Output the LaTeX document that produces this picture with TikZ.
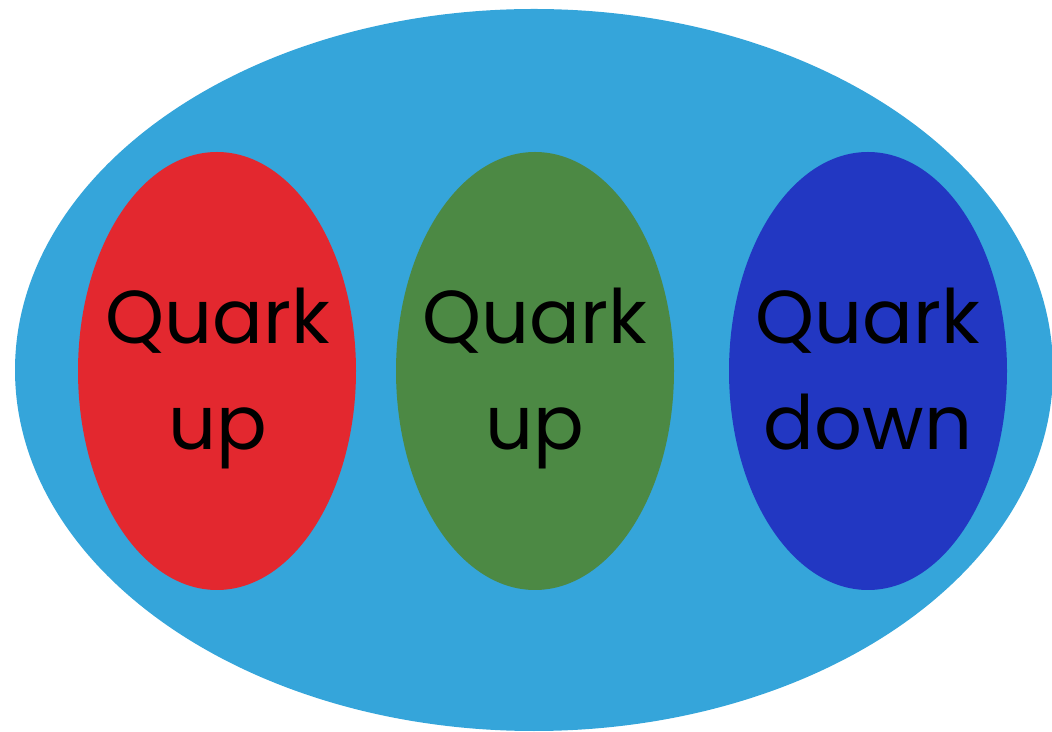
\documentclass[tikz,border=0pt]{standalone}
\usepackage{fontspec}
\setmainfont{Poppins}
\definecolor{bgblue}{HTML}{35A5DA}
\definecolor{qred}{HTML}{E3282F}
\definecolor{qgreen}{HTML}{4C8944}
\definecolor{qblue}{HTML}{2237C2}
\begin{document}
\begin{tikzpicture}[x=1pt,y=1pt,
  quark/.style={fill=#1,draw=none},
  lbl/.style={align=center,font=\fontsize{75}{107}\selectfont,text=black,inner sep=0pt}]
\useasboundingbox (0,0) rectangle (1052,731);
\begin{scope}
\clip (0,0) rectangle (1052,731);
\fill[bgblue] (534,361) ellipse [x radius=519, y radius=361];
\end{scope}
\fill[quark=qred] (217,360) ellipse [x radius=139, y radius=219];
\fill[quark=qgreen] (535,360) ellipse [x radius=139, y radius=219];
\fill[quark=qblue] (868,360) ellipse [x radius=139, y radius=219];
\node[lbl,anchor=base] (q1) at (218,387) {Quark};
\node[lbl,anchor=base] (u1) at (218,281) {up};
\node[lbl,anchor=base] (q2) at (535,387) {Quark};
\node[lbl,anchor=base] (u2) at (535,281) {up};
\node[lbl,anchor=base] (q3) at (868,387) {Quark};
\node[lbl,anchor=base] (d3) at (868,281) {down};
\end{tikzpicture}
\end{document}
